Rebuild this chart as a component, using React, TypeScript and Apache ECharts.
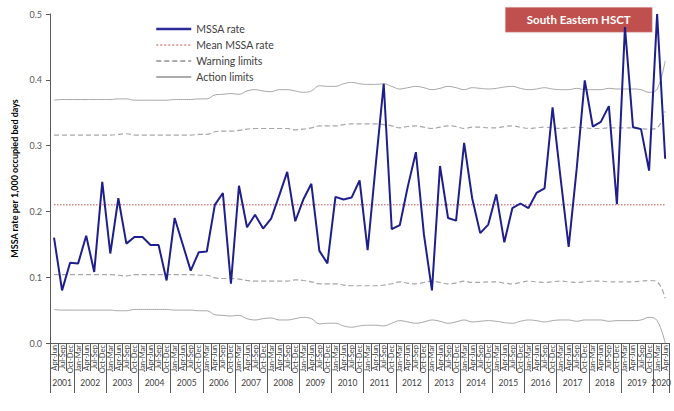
import React, { useEffect, useRef } from 'react';
import * as echarts from 'echarts';

const QUARTER_NAMES = ['Jan-Mar', 'Apr-Jun', 'Jul-Sep', 'Oct-Dec'];
const YEARS = [2001, 2002, 2003, 2004, 2005, 2006, 2007, 2008, 2009, 2010, 2011, 2012, 2013, 2014, 2015, 2016, 2017, 2018, 2019, 2020];
const FIRST_QUARTER_INDEX = 1; // Apr-Jun 2001
const LAST_QUARTER_INDEX = 1; // Apr-Jun 2020

const MEAN_RATE = 0.21;

const MSSA_RATE = [
  0.160, 0.080, 0.122, 0.121, 0.163, 0.108, 0.245, 0.136, 0.220, 0.151,
  0.161, 0.161, 0.149, 0.149, 0.095, 0.190, 0.150, 0.110, 0.138, 0.139,
  0.210, 0.228, 0.090, 0.239, 0.176, 0.195, 0.174, 0.189, 0.224, 0.260,
  0.185, 0.218, 0.242, 0.140, 0.121, 0.222, 0.218, 0.221, 0.247, 0.141,
  0.270, 0.394, 0.173, 0.179, 0.238, 0.290, 0.165, 0.080, 0.269, 0.190,
  0.186, 0.304, 0.220, 0.167, 0.180, 0.226, 0.153, 0.205, 0.212, 0.205,
  0.228, 0.235, 0.358, 0.250, 0.146, 0.265, 0.399, 0.329, 0.336, 0.360,
  0.211, 0.480, 0.328, 0.325, 0.262, 0.500, 0.280,
];

const UPPER_ACTION = [
  0.369, 0.370, 0.370, 0.370, 0.370, 0.370, 0.370, 0.370, 0.371, 0.371,
  0.369, 0.369, 0.369, 0.369, 0.369, 0.370, 0.370, 0.370, 0.371, 0.371,
  0.377, 0.378, 0.379, 0.378, 0.383, 0.385, 0.383, 0.382, 0.385, 0.385,
  0.383, 0.381, 0.383, 0.391, 0.390, 0.390, 0.394, 0.396, 0.394, 0.393,
  0.393, 0.394, 0.390, 0.386, 0.388, 0.390, 0.388, 0.385, 0.387, 0.390,
  0.388, 0.385, 0.388, 0.387, 0.386, 0.387, 0.389, 0.390, 0.387, 0.385,
  0.386, 0.388, 0.386, 0.385, 0.385, 0.387, 0.385, 0.385, 0.385, 0.387,
  0.386, 0.386, 0.386, 0.385, 0.381, 0.386, 0.429,
];

const UPPER_WARNING = [
  0.316, 0.316, 0.316, 0.316, 0.316, 0.316, 0.316, 0.316, 0.317, 0.318,
  0.316, 0.316, 0.316, 0.316, 0.316, 0.316, 0.316, 0.316, 0.317, 0.317,
  0.321, 0.322, 0.322, 0.323, 0.325, 0.326, 0.326, 0.326, 0.326, 0.326,
  0.324, 0.325, 0.327, 0.330, 0.330, 0.330, 0.332, 0.333, 0.333, 0.333,
  0.333, 0.332, 0.330, 0.327, 0.329, 0.330, 0.328, 0.326, 0.328, 0.330,
  0.329, 0.326, 0.328, 0.328, 0.327, 0.327, 0.329, 0.330, 0.328, 0.326,
  0.327, 0.328, 0.327, 0.326, 0.327, 0.328, 0.327, 0.326, 0.326, 0.327,
  0.327, 0.327, 0.327, 0.326, 0.325, 0.327, 0.352,
];

const LOWER_WARNING = [
  0.104, 0.104, 0.104, 0.104, 0.104, 0.104, 0.104, 0.104, 0.103, 0.102,
  0.104, 0.104, 0.104, 0.104, 0.104, 0.104, 0.104, 0.104, 0.103, 0.103,
  0.099, 0.098, 0.098, 0.097, 0.095, 0.094, 0.094, 0.094, 0.094, 0.094,
  0.096, 0.095, 0.093, 0.090, 0.090, 0.090, 0.088, 0.087, 0.087, 0.087,
  0.087, 0.088, 0.090, 0.093, 0.091, 0.090, 0.092, 0.094, 0.092, 0.090,
  0.091, 0.094, 0.092, 0.092, 0.093, 0.093, 0.091, 0.090, 0.092, 0.094,
  0.093, 0.092, 0.093, 0.094, 0.093, 0.092, 0.093, 0.094, 0.094, 0.093,
  0.093, 0.093, 0.093, 0.094, 0.095, 0.093, 0.068,
];

const LOWER_ACTION = [
  0.051, 0.050, 0.050, 0.050, 0.050, 0.050, 0.050, 0.050, 0.049, 0.049,
  0.051, 0.051, 0.051, 0.051, 0.051, 0.050, 0.050, 0.050, 0.049, 0.049,
  0.043, 0.042, 0.041, 0.042, 0.037, 0.035, 0.037, 0.038, 0.035, 0.035,
  0.037, 0.039, 0.037, 0.029, 0.030, 0.030, 0.026, 0.024, 0.026, 0.027,
  0.027, 0.026, 0.030, 0.034, 0.032, 0.030, 0.032, 0.035, 0.033, 0.030,
  0.032, 0.035, 0.032, 0.033, 0.034, 0.033, 0.031, 0.030, 0.033, 0.035,
  0.034, 0.032, 0.034, 0.035, 0.035, 0.033, 0.035, 0.035, 0.035, 0.033,
  0.034, 0.034, 0.034, 0.035, 0.039, 0.034, 0.000,
];

// Category rows
const quarterLabels: string[] = [];
const quarterYears: number[] = [];
YEARS.forEach((y, yi) => {
  const start = yi === 0 ? FIRST_QUARTER_INDEX : 0;
  const end = yi === YEARS.length - 1 ? LAST_QUARTER_INDEX : 3;
  for (let q = start; q <= end; q++) {
    quarterLabels.push(QUARTER_NAMES[q]);
    quarterYears.push(y);
  }
});

// Year row: half-slot positions (boundaryGap false), 2*N+1 points
const yearAxisData: string[] = new Array(quarterLabels.length * 2 + 1).fill('');
const yearBoundaries = new Set<number>();
{
  let s = 0;
  YEARS.forEach((y) => {
    const n = quarterYears.filter((v) => v === y).length;
    yearBoundaries.add(2 * s);
    yearAxisData[2 * s + n] = String(y);
    s += n;
  });
  yearBoundaries.add(2 * s);
}

const FONT = 'Lato, "Open Sans", sans-serif';
const LIMIT_GREY = '#A6A6A6';
const HIDDEN_SYMBOL = { opacity: 0, color: 'transparent', borderWidth: 0 };

export default function App() {
  const ref = useRef<HTMLDivElement>(null);

  useEffect(() => {
    if (!ref.current) return;
    const chart = echarts.init(ref.current, undefined, { renderer: 'svg' });
    const meanData = quarterLabels.map(() => MEAN_RATE);

    chart.setOption({
      animation: false,
      backgroundColor: '#ffffff',
      textStyle: { fontFamily: FONT },
      grid: { left: 50, right: 2, top: 14, bottom: 68, containLabel: false },
      legend: {
        orient: 'vertical',
        left: 150,
        top: 17,
        itemWidth: 35,
        itemHeight: 10,
        itemGap: 2,
        selectedMode: false,
        itemStyle: HIDDEN_SYMBOL,
        textStyle: { fontFamily: FONT, fontSize: 10.5, color: '#404040', lineHeight: 14 },
        data: [
          { name: 'MSSA rate', itemStyle: HIDDEN_SYMBOL, lineStyle: { color: '#2B2B9A', width: 2.5 } },
          { name: 'Mean MSSA rate', itemStyle: HIDDEN_SYMBOL, lineStyle: { color: '#C0504D', width: 1, type: [2, 2] } },
          { name: 'Warning limits', itemStyle: HIDDEN_SYMBOL, lineStyle: { color: '#595959', width: 1.2, type: [5, 3] } },
          { name: 'Action limits', itemStyle: HIDDEN_SYMBOL, lineStyle: { color: '#595959', width: 1 } },
        ],
      },
      xAxis: [
        {
          type: 'category',
          data: quarterLabels,
          boundaryGap: true,
          position: 'bottom',
          axisLine: { show: true, lineStyle: { color: '#595959', width: 1 } },
          axisTick: { show: true, interval: 0, length: 28, lineStyle: { color: '#595959' } },
          axisLabel: {
            interval: 0,
            rotate: 90,
            fontSize: 7.5,
            color: '#404040',
            margin: 2,
            fontFamily: FONT,
          },
          splitLine: { show: false },
        },
        {
          type: 'category',
          data: yearAxisData,
          boundaryGap: false,
          position: 'bottom',
          axisLine: { show: false },
          axisTick: {
            show: true,
            length: 50,
            interval: (index: number) => yearBoundaries.has(index),
            lineStyle: { color: '#595959' },
          },
          axisLabel: {
            interval: (_index: number, value: string) => value !== '',
            fontSize: 8.5,
            color: '#404040',
            margin: 35,
            fontFamily: FONT,
          },
          splitLine: { show: false },
        },
      ],
      yAxis: {
        type: 'value',
        min: 0,
        max: 0.5,
        interval: 0.1,
        name: 'MSSA rate per 1,000 occupied bed days',
        nameLocation: 'middle',
        nameGap: 24,
        nameTextStyle: { fontFamily: FONT, fontWeight: 'bold', fontSize: 9, color: '#000000' },
        axisLine: { show: true, lineStyle: { color: '#595959', width: 1 } },
        axisTick: { show: true, length: 4, lineStyle: { color: '#595959' } },
        axisLabel: {
          formatter: (v: number) => v.toFixed(1),
          fontSize: 9,
          color: '#595959',
          margin: 8,
          fontFamily: FONT,
        },
        splitLine: { show: false },
      },
      series: [
        {
          name: 'Action limits',
          type: 'line',
          data: UPPER_ACTION,
          symbol: 'none',
          smooth: 0.4,
          lineStyle: { color: LIMIT_GREY, width: 1 },
          itemStyle: { color: LIMIT_GREY },
          z: 2,
        },
        {
          name: 'Action limits',
          type: 'line',
          data: LOWER_ACTION,
          symbol: 'none',
          smooth: 0.4,
          lineStyle: { color: LIMIT_GREY, width: 1 },
          itemStyle: { color: LIMIT_GREY },
          z: 2,
        },
        {
          name: 'Warning limits',
          type: 'line',
          data: UPPER_WARNING,
          symbol: 'none',
          smooth: 0.4,
          lineStyle: { color: LIMIT_GREY, width: 1.2, type: [5, 3] },
          itemStyle: { color: LIMIT_GREY },
          z: 2,
        },
        {
          name: 'Warning limits',
          type: 'line',
          data: LOWER_WARNING,
          symbol: 'none',
          smooth: 0.4,
          lineStyle: { color: LIMIT_GREY, width: 1.2, type: [5, 3] },
          itemStyle: { color: LIMIT_GREY },
          z: 2,
        },
        {
          name: 'Mean MSSA rate',
          type: 'line',
          data: meanData,
          symbol: 'none',
          lineStyle: { color: '#C0504D', width: 1, type: [1.5, 1.5] },
          itemStyle: { color: '#C0504D' },
          z: 3,
        },
        {
          name: 'MSSA rate',
          type: 'line',
          data: MSSA_RATE,
          symbol: 'none',
          lineStyle: { color: '#1F1F8C', width: 2 },
          itemStyle: { color: '#1F1F8C' },
          z: 4,
        },
      ],
      graphic: [
        {
          type: 'group',
          left: 505,
          top: 7,
          z: 100,
          children: [
            {
              type: 'rect',
              shape: { x: 0, y: 0, width: 147, height: 25 },
              style: { fill: '#C0504D', stroke: '#E6B9B8', lineWidth: 0.5 },
            },
            {
              type: 'text',
              x: 73.5,
              y: 12.5,
              style: {
                text: 'South Eastern HSCT',
                fill: '#ffffff',
                font: `bold 11.5px ${FONT}`,
                align: 'center',
                verticalAlign: 'middle',
              },
            },
          ],
        },
      ],
    });

    return () => {
      chart.dispose();
    };
  }, []);

  return (
    <div
      ref={ref}
      style={{ position: 'fixed', left: 0, top: 0, width: 674, height: 411 }}
    />
  );
}
